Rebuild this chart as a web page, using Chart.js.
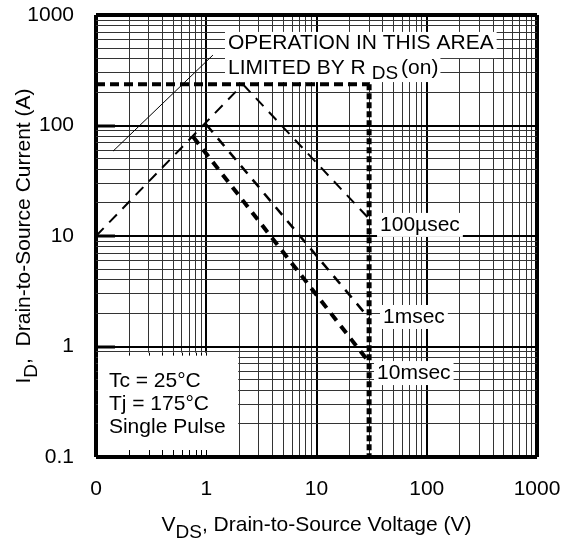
<!DOCTYPE html>
<html>
<head>
<meta charset="utf-8">
<script src="https://cdn.jsdelivr.net/npm/chart.js@4.4.0/dist/chart.umd.min.js"></script>
<style>
  html, body { margin: 0; padding: 0; background: #fff; }
  canvas { display: block; }
</style>
</head>
<body>
<canvas id="soa" width="568" height="542"></canvas>
<script>
const FONT = '"Liberation Sans", Arial, Helvetica, sans-serif';

// axis ticks (log axes, 0.1 .. 1000)
const xTickValues = [0.1, 1, 10, 100, 1000];
const xTickLabels = ['0', '1', '10', '100', '1000'];
const yTickValues = [0.1, 1, 10, 100, 1000];
const yTickLabels = ['0.1', '1', '10', '100', '1000'];
const gridDecades = [0.1, 1, 10, 100];
const gridSteps = [1, 2, 3, 4, 5, 6, 7, 8, 9];

// boundaries of the safe operating area (V, A)
const rdsLimitV = [0.1, 2.15];
const rdsLimitI = [10, 236];
const currentLimitV = [0.1, 30];
const currentLimitI = [236, 236];
const voltageLimitV = [30, 30];
const voltageLimitI = [236, 0.1];

// pulse curves
const pulse100usV = [2.15, 30];
const pulse100usI = [236, 14.3];
const pulse1msV = [1.0, 30];
const pulse1msI = [102, 1.8];
const pulse10msV = [0.76, 30];
const pulse10msI = [79, 0.72];

// leader line of the R_DS(on) note
const pointerV = [0.143, 1.15];
const pointerI = [58.7, 434];

// text notes, anchored in data units (left edge, middle)
const pulseLabels = [
  { text: '100µsec', v: 37.7, i: 12.6 },
  { text: '1msec', v: 40.1, i: 1.85 },
  { text: '10msec', v: 35.4, i: 0.575 }
];
const conditionLines = ['Tc = 25°C', 'Tj = 175°C', 'Single Pulse'];
const conditionV = 0.131;
const conditionI = [0.488, 0.302, 0.187];
const conditionBoxV = [0.1, 1.95];
const conditionBoxI = [0.1, 0.88];
const noteV = 1.575;
const noteI = [559, 331];

const gridValues = gridDecades.flatMap(d => gridSteps.map(s => +(d * s).toPrecision(6))).concat([1000]);

const pts = (xs, ys) => xs.map((x, i) => ({ x: x, y: ys[i] }));
const isDecade = v => Math.abs(Math.log10(v) - Math.round(Math.log10(v))) < 1e-9;

function gridWidth(ctx) {
  const v = ctx.tick ? ctx.tick.value : 1;
  if (v <= 0.1 + 1e-9 || v >= 1000 - 1e-6) return 4;
  return isDecade(v) ? 2 : 1;
}
function gridColor(ctx) {
  const v = ctx.tick ? ctx.tick.value : 1;
  return isDecade(v) ? '#000' : '#333';
}

function drawRich(ctx, parts, cx, cy) {
  let total = 0;
  parts.forEach(p => { ctx.font = p.size + 'px ' + FONT; p.w = ctx.measureText(p.text).width; total += p.w; });
  let x = cx - total / 2;
  parts.forEach(p => {
    ctx.font = p.size + 'px ' + FONT;
    ctx.fillText(p.text, x, cy + (p.dy || 0));
    x += p.w;
  });
}

const annotate = {
  id: 'annotate',
  beforeDatasetsDraw(chart) {
    const { ctx, chartArea: a } = chart;
    const x = chart.scales.x, y = chart.scales.y;
    ctx.save();
    ctx.fillStyle = '#fff';
    ctx.textBaseline = 'middle';
    ctx.textAlign = 'left';

    // conditions box
    const bx0 = x.getPixelForValue(conditionBoxV[0]), bx1 = x.getPixelForValue(conditionBoxV[1]);
    const by0 = y.getPixelForValue(conditionBoxI[1]), by1 = y.getPixelForValue(conditionBoxI[0]);
    ctx.fillRect(bx0 + 2, by0, bx1 - bx0 - 2, by1 - by0 - 2);

    // inner ticks on the bottom edge of the box
    ctx.strokeStyle = '#000';
    ctx.lineWidth = 1;
    gridValues.forEach(v => {
      const px = Math.round(x.getPixelForValue(v)) + 0.5;
      if (px > a.left + 3 && px < bx1) {
        ctx.beginPath(); ctx.moveTo(px, a.bottom - 2); ctx.lineTo(px, a.bottom - 7); ctx.stroke();
        ctx.beginPath(); ctx.moveTo(px, by0); ctx.lineTo(px, by0 + 3); ctx.stroke();
      }
    });
    // heavy decade marks on the left edge
    ctx.lineWidth = 3;
    [1, 10, 100].forEach(v => {
      const py = Math.round(y.getPixelForValue(v));
      ctx.beginPath(); ctx.moveTo(a.left, py); ctx.lineTo(a.left + 19, py); ctx.stroke();
    });

    ctx.font = '21px ' + FONT;
    ctx.fillStyle = '#000';
    const cx = x.getPixelForValue(conditionV);
    conditionLines.forEach((t, k) => ctx.fillText(t, cx, y.getPixelForValue(conditionI[k])));

    // pulse labels
    pulseLabels.forEach(l => {
      const px = x.getPixelForValue(l.v), py = y.getPixelForValue(l.i);
      const w = ctx.measureText(l.text).width;
      ctx.fillStyle = '#fff';
      ctx.fillRect(px - 3, py - 12, w + 6, 24);
      ctx.fillStyle = '#000';
      ctx.fillText(l.text, px, py);
    });

    // R_DS(on) note
    const nx = x.getPixelForValue(noteV);
    const ny1 = y.getPixelForValue(noteI[0]), ny2 = y.getPixelForValue(noteI[1]);
    const line1 = 'OPERATION IN THIS AREA';
    const w1 = ctx.measureText(line1).width;
    const wR = ctx.measureText('LIMITED BY R').width;
    ctx.font = '19px ' + FONT;
    const wDS = ctx.measureText('DS').width;
    ctx.font = '21px ' + FONT;
    const wOn = ctx.measureText('(on)').width;
    const w2 = wR + 6 + wDS + 3 + wOn;
    ctx.fillStyle = '#fff';
    ctx.fillRect(nx - 3, ny1 - 11, w1 + 6, ny2 - ny1 + 1);
    ctx.fillRect(nx - 3, ny2 - 12, w2 + 5, 26);
    ctx.fillStyle = '#000';
    ctx.fillText(line1, nx, ny1);
    ctx.fillText('LIMITED BY R', nx, ny2);
    ctx.font = '19px ' + FONT;
    ctx.fillText('DS', nx + wR + 6, ny2 + 6);
    ctx.font = '21px ' + FONT;
    ctx.fillText('(on)', nx + wR + 6 + wDS + 3, ny2);
    ctx.restore();
  },
  afterDraw(chart) {
    const { ctx, chartArea: a } = chart;
    ctx.save();
    ctx.fillStyle = '#000';
    ctx.textBaseline = 'middle';
    ctx.textAlign = 'left';
    drawRich(ctx, [
      { text: 'V', size: 21 },
      { text: 'DS', size: 19, dy: 8 },
      { text: ', Drain-to-Source Voltage (V)', size: 21 }
    ], (a.left + a.right) / 2, 525);
    ctx.translate(24, (a.top + a.bottom) / 2);
    ctx.rotate(-Math.PI / 2);
    drawRich(ctx, [
      { text: 'I', size: 21 },
      { text: 'D', size: 19, dy: 8 },
      { text: ',  Drain-to-Source Current (A)', size: 21 }
    ], 0, 0);
    ctx.restore();
  }
};

const lineSet = (label, xs, ys, width, dash) => ({
  label: label,
  data: pts(xs, ys),
  showLine: true,
  borderColor: '#000',
  backgroundColor: '#000',
  borderWidth: width,
  borderDash: dash,
  pointRadius: 0,
  fill: false
});

new Chart(document.getElementById('soa'), {
  type: 'scatter',
  data: {
    datasets: [
      lineSet('RDS(on) limit', rdsLimitV, rdsLimitI, 2, [11, 8]),
      lineSet('Current limit', currentLimitV, currentLimitI, 4, [9, 5]),
      lineSet('Voltage limit', voltageLimitV, voltageLimitI, 5, [6, 3]),
      lineSet('100µsec', pulse100usV, pulse100usI, 2, [11, 8]),
      lineSet('1msec', pulse1msV, pulse1msI, 2.5, [10, 8]),
      lineSet('10msec', pulse10msV, pulse10msI, 4, [9, 7]),
      lineSet('pointer', pointerV, pointerI, 1, [])
    ]
  },
  options: {
    responsive: false,
    animation: false,
    devicePixelRatio: 1,
    layout: { padding: { top: 15, right: 31, left: 0, bottom: 0 } },
    plugins: { legend: { display: false }, tooltip: { enabled: false } },
    scales: {
      x: {
        type: 'logarithmic',
        min: 0.1,
        max: 1000,
        afterBuildTicks: s => { s.ticks = gridValues.map(v => ({ value: v })); },
        afterFit: s => { s.height = 85; s.paddingLeft = 0; s.paddingRight = 0; },
        border: { display: false },
        grid: { drawTicks: false, color: gridColor, lineWidth: gridWidth },
        ticks: {
          autoSkip: false, maxRotation: 0, padding: 20, color: '#000',
          font: { family: FONT, size: 21 },
          callback: v => { const k = xTickValues.findIndex(t => Math.abs(t - v) < 1e-9); return k < 0 ? '' : xTickLabels[k]; }
        }
      },
      y: {
        type: 'logarithmic',
        min: 0.1,
        max: 1000,
        afterBuildTicks: s => { s.ticks = gridValues.map(v => ({ value: v })); },
        afterFit: s => { s.width = 96; s.paddingTop = 0; s.paddingBottom = 0; },
        border: { display: false },
        grid: { drawTicks: false, color: gridColor, lineWidth: gridWidth },
        ticks: {
          autoSkip: false, padding: 22, color: '#000',
          font: { family: FONT, size: 21 },
          callback: v => { const k = yTickValues.findIndex(t => Math.abs(t - v) < 1e-9); return k < 0 ? '' : yTickLabels[k]; }
        }
      }
    }
  },
  plugins: [annotate]
});
</script>
</body>
</html>
